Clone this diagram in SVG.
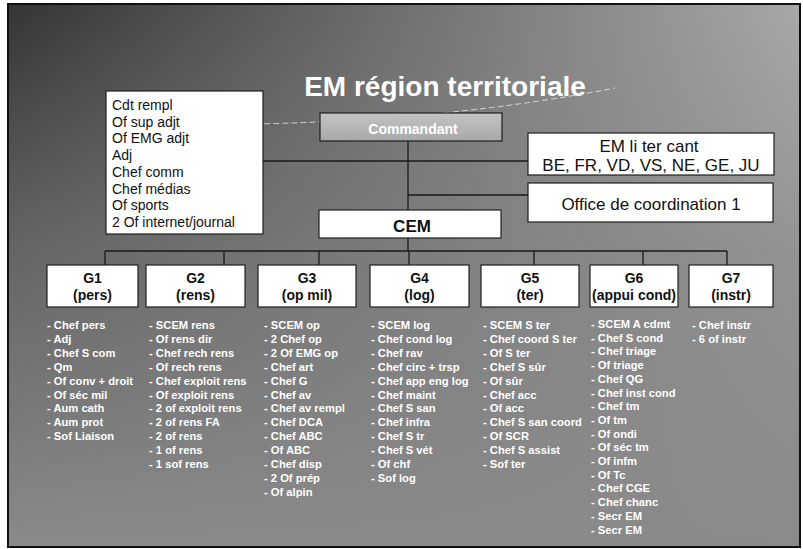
<svg xmlns="http://www.w3.org/2000/svg" width="803" height="549" viewBox="0 0 803 549">
<defs>
<linearGradient id="bgH" x1="0" y1="0" x2="1" y2="0">
<stop offset="0" stop-color="#343434"/>
<stop offset="0.5" stop-color="#707070"/>
<stop offset="1" stop-color="#a8a8a8"/>
</linearGradient>
<linearGradient id="bgV" x1="0" y1="0" x2="0" y2="1">
<stop offset="0" stop-color="#8a8a8a" stop-opacity="0"/>
<stop offset="0.45" stop-color="#858585" stop-opacity="0.6"/>
<stop offset="1" stop-color="#8a8a8a" stop-opacity="1"/>
</linearGradient>
<linearGradient id="cmd" x1="0" y1="0" x2="0" y2="1">
<stop offset="0" stop-color="#c4c4c4"/>
<stop offset="1" stop-color="#a8a8a8"/>
</linearGradient>
<style>
.box{fill:#ffffff;stroke:#1e1e1e;stroke-width:1.2}
.ln{stroke:#1a1a1a;stroke-width:1.3;fill:none}
.t{font-family:"Liberation Sans",Arial,sans-serif;fill:#111}
.b{font-weight:bold}
.g{font-family:"Liberation Sans",Arial,sans-serif;font-weight:bold;font-size:14px;fill:#111;text-anchor:middle}
.l{font-family:"Liberation Sans",Arial,sans-serif;font-weight:bold;font-size:11.2px;fill:#ffffff}
</style>
</defs>
<rect x="0" y="0" width="803" height="549" fill="#ffffff"/>
<rect x="8" y="4" width="792" height="543" fill="url(#bgH)"/>
<rect x="8" y="4" width="792" height="543" fill="url(#bgV)"/>
<rect x="8" y="4" width="792" height="543" fill="none" stroke="#111" stroke-width="2"/>

<text class="t b" x="445" y="96" font-size="28" fill="#ffffff" style="fill:#ffffff" text-anchor="middle">EM région territoriale</text>
<path d="M 255 124 Q 450 120 615 88" stroke="#e8e8e8" stroke-width="1" fill="none" stroke-dasharray="6 3" opacity="0.8"/>

<g id="connectors">
<line class="ln" x1="408" y1="141" x2="408" y2="251"/>
<line class="ln" x1="263" y1="161" x2="528" y2="161"/>
<line class="ln" x1="408" y1="195" x2="528" y2="195"/>
<line class="ln" x1="105" y1="251" x2="727" y2="251"/>
<line class="ln" x1="105" y1="251" x2="105" y2="265"/>
<line class="ln" x1="224" y1="251" x2="224" y2="265"/>
<line class="ln" x1="319" y1="251" x2="319" y2="265"/>
<line class="ln" x1="409" y1="251" x2="409" y2="265"/>
<line class="ln" x1="534" y1="251" x2="534" y2="265"/>
<line class="ln" x1="643" y1="251" x2="643" y2="265"/>
<line class="ln" x1="727" y1="251" x2="727" y2="265"/>
</g>

<g id="commandant">
<rect x="320" y="113" width="182" height="28" fill="url(#cmd)" stroke="#1e1e1e" stroke-width="1.2"/>
<text class="t b" x="413" y="134" font-size="14" style="fill:#ffffff" text-anchor="middle">Commandant</text>
</g>

<g id="staff">
<rect class="box" x="106" y="91" width="157" height="143"/>
<text class="t" font-size="14" x="112" y="110">Cdt rempl</text>
<text class="t" font-size="14" x="112" y="126.7">Of sup adjt</text>
<text class="t" font-size="14" x="112" y="143.4">Of EMG adjt</text>
<text class="t" font-size="14" x="112" y="160.1">Adj</text>
<text class="t" font-size="14" x="112" y="176.8">Chef comm</text>
<text class="t" font-size="14" x="112" y="193.5">Chef médias</text>
<text class="t" font-size="14" x="112" y="210.2">Of sports</text>
<text class="t" font-size="14" x="112" y="227">2 Of internet/journal</text>
</g>

<g id="emliter">
<rect class="box" x="528" y="133" width="246" height="42"/>
<text class="t" font-size="17" x="649" y="152" text-anchor="middle">EM li ter cant</text>
<text class="t" font-size="17" x="651" y="171" text-anchor="middle">BE, FR, VD, VS, NE, GE, JU</text>
</g>

<g id="office">
<rect class="box" x="528" y="183" width="245" height="39"/>
<text class="t" font-size="17" x="651" y="210" text-anchor="middle">Office de coordination 1</text>
</g>

<g id="cem">
<rect class="box" x="319" y="210" width="182" height="28"/>
<text class="t b" font-size="17" x="412" y="232" text-anchor="middle">CEM</text>
</g>

<g id="g1">
<rect class="box" x="47" y="265" width="91" height="42"/>
<text class="g" x="92.5" y="283">G1</text>
<text class="g" x="92.5" y="300">(pers)</text>
<text class="l" x="47" y="329"><tspan x="47">- Chef pers</tspan><tspan x="47" dy="13.9">- Adj</tspan><tspan x="47" dy="13.9">- Chef S com</tspan><tspan x="47" dy="13.9">- Qm</tspan><tspan x="47" dy="13.9">- Of conv + droit</tspan><tspan x="47" dy="13.9">- Of séc mil</tspan><tspan x="47" dy="13.9">- Aum cath</tspan><tspan x="47" dy="13.9">- Aum prot</tspan><tspan x="47" dy="13.9">- Sof Liaison</tspan></text>
</g>

<g id="g2">
<rect class="box" x="146" y="265" width="99" height="42"/>
<text class="g" x="195.5" y="283">G2</text>
<text class="g" x="195.5" y="300">(rens)</text>
<text class="l" x="149" y="329"><tspan x="149">- SCEM rens</tspan><tspan x="149" dy="13.9">- Of rens dir</tspan><tspan x="149" dy="13.9">- Chef rech rens</tspan><tspan x="149" dy="13.9">- Of rech rens</tspan><tspan x="149" dy="13.9">- Chef exploit rens</tspan><tspan x="149" dy="13.9">- Of exploit rens</tspan><tspan x="149" dy="13.9">- 2 of exploit rens</tspan><tspan x="149" dy="13.9">- 2 of rens FA</tspan><tspan x="149" dy="13.9">- 2 of rens</tspan><tspan x="149" dy="13.9">- 1 of rens</tspan><tspan x="149" dy="13.9">- 1 sof rens</tspan></text>
</g>

<g id="g3">
<rect class="box" x="258" y="265" width="98" height="42"/>
<text class="g" x="307" y="283">G3</text>
<text class="g" x="307" y="300">(op mil)</text>
<text class="l" x="264" y="329"><tspan x="264">- SCEM op</tspan><tspan x="264" dy="13.9">- 2 Chef op</tspan><tspan x="264" dy="13.9">- 2 Of EMG op</tspan><tspan x="264" dy="13.9">- Chef art</tspan><tspan x="264" dy="13.9">- Chef G</tspan><tspan x="264" dy="13.9">- Chef av</tspan><tspan x="264" dy="13.9">- Chef av rempl</tspan><tspan x="264" dy="13.9">- Chef DCA</tspan><tspan x="264" dy="13.9">- Chef ABC</tspan><tspan x="264" dy="13.9">- Of ABC</tspan><tspan x="264" dy="13.9">- Chef disp</tspan><tspan x="264" dy="13.9">- 2 Of prép</tspan><tspan x="264" dy="13.9">- Of alpin</tspan></text>
</g>

<g id="g4">
<rect class="box" x="370" y="265" width="99" height="42"/>
<text class="g" x="419.5" y="283">G4</text>
<text class="g" x="419.5" y="300">(log)</text>
<text class="l" x="371" y="329"><tspan x="371">- SCEM log</tspan><tspan x="371" dy="13.9">- Chef cond log</tspan><tspan x="371" dy="13.9">- Chef rav</tspan><tspan x="371" dy="13.9">- Chef circ + trsp</tspan><tspan x="371" dy="13.9">- Chef app eng log</tspan><tspan x="371" dy="13.9">- Chef maint</tspan><tspan x="371" dy="13.9">- Chef S san</tspan><tspan x="371" dy="13.9">- Chef infra</tspan><tspan x="371" dy="13.9">- Chef S tr</tspan><tspan x="371" dy="13.9">- Chef S vét</tspan><tspan x="371" dy="13.9">- Of chf</tspan><tspan x="371" dy="13.9">- Sof log</tspan></text>
</g>

<g id="g5">
<rect class="box" x="481" y="265" width="98" height="42"/>
<text class="g" x="530" y="283">G5</text>
<text class="g" x="530" y="300">(ter)</text>
<text class="l" x="483" y="329"><tspan x="483">- SCEM S ter</tspan><tspan x="483" dy="13.9">- Chef coord S ter</tspan><tspan x="483" dy="13.9">- Of S ter</tspan><tspan x="483" dy="13.9">- Chef S sûr</tspan><tspan x="483" dy="13.9">- Of sûr</tspan><tspan x="483" dy="13.9">- Chef acc</tspan><tspan x="483" dy="13.9">- Of acc</tspan><tspan x="483" dy="13.9">- Chef S san coord</tspan><tspan x="483" dy="13.9">- Of SCR</tspan><tspan x="483" dy="13.9">- Chef S assist</tspan><tspan x="483" dy="13.9">- Sof ter</tspan></text>
</g>

<g id="g6">
<rect class="box" x="590" y="265" width="88" height="42"/>
<text class="g" x="634" y="283">G6</text>
<text class="g" x="634" y="300">(appui cond)</text>
<text class="l" x="591" y="328"><tspan x="591">- SCEM A cdmt</tspan><tspan x="591" dy="13.7">- Chef S cond</tspan><tspan x="591" dy="13.7">- Chef triage</tspan><tspan x="591" dy="13.7">- Of triage</tspan><tspan x="591" dy="13.7">- Chef QG</tspan><tspan x="591" dy="13.7">- Chef inst cond</tspan><tspan x="591" dy="13.7">- Chef tm</tspan><tspan x="591" dy="13.7">- Of tm</tspan><tspan x="591" dy="13.7">- Of ondi</tspan><tspan x="591" dy="13.7">- Of séc tm</tspan><tspan x="591" dy="13.7">- Of infm</tspan><tspan x="591" dy="13.7">- Of Tc</tspan><tspan x="591" dy="13.7">- Chef CGE</tspan><tspan x="591" dy="13.7">- Chef chanc</tspan><tspan x="591" dy="13.7">- Secr EM</tspan><tspan x="591" dy="13.7">- Secr EM</tspan></text>
</g>

<g id="g7">
<rect class="box" x="689" y="265" width="84" height="42"/>
<text class="g" x="731" y="283">G7</text>
<text class="g" x="731" y="300">(instr)</text>
<text class="l" x="692" y="329"><tspan x="692">- Chef instr</tspan><tspan x="692" dy="13.9">- 6 of instr</tspan></text>
</g>
</svg>
